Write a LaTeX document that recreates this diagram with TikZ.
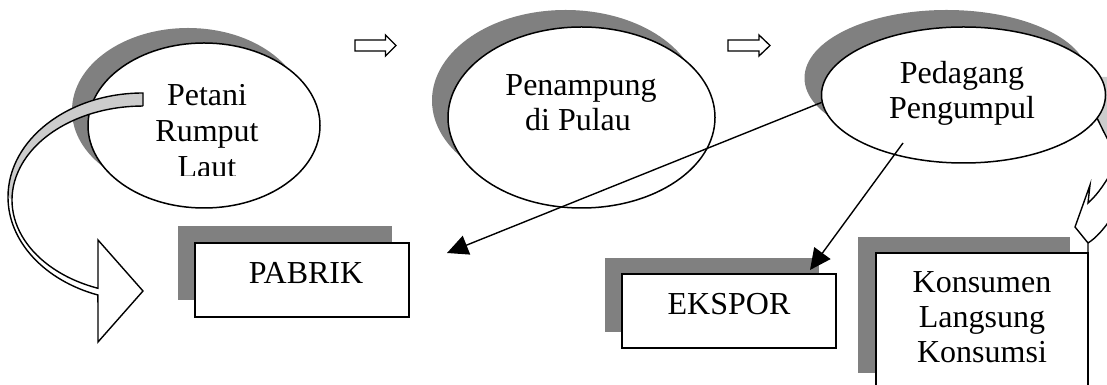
\documentclass[tikz,border=0pt]{standalone}
\usepackage{fontspec}
\setmainfont{Liberation Serif}
\usetikzlibrary{shapes.geometric,shadows,arrows.meta,calc}
\definecolor{shadowgray}{HTML}{808080}
\definecolor{bandgray}{HTML}{CCCCCC}
\begin{document}
\begin{tikzpicture}[x=1pt,y=1pt,
  lbl/.style={font=\fontsize{32}{35}\selectfont, anchor=base, inner sep=0pt},
  bubble/.style={ellipse, draw, line width=1.5pt, fill=white, inner sep=0pt},
  box/.style={rectangle, draw, line width=1.5pt, fill=white, inner sep=0pt},
  shade1/.style={drop shadow={shadow xshift=-16pt,shadow yshift=15pt,fill=shadowgray,opacity=1}},
  shade2/.style={drop shadow={shadow xshift=-16pt,shadow yshift=17pt,fill=shadowgray,opacity=1}},
  shade3/.style={drop shadow={shadow xshift=-17pt,shadow yshift=17pt,fill=shadowgray,opacity=1}},
  outline/.style={line width=1.4pt, line join=miter},
  flow/.style={-{Triangle[length=21pt,width=20pt]}, line width=1.4pt},
  blockarrow/.style={draw, line width=1.3pt, fill=white, line join=miter}
]
\useasboundingbox (0,0) rectangle (1107,385);
\fill[white] (0,0) rectangle (1107,385);

% ellipses
\node[bubble, shade1, minimum width=232pt, minimum height=165pt] (petani) at (204,259.5) {};
\node[bubble, shade2, minimum width=267pt, minimum height=181pt] (penampung) at (581.5,267.5) {};
% back band of right curved arrow (behind the third ellipse)
\fill[bandgray] (1102,308) -- (1096,268) .. controls (1100,259) and (1105,250) .. (1112,238) -- (1112,308) -- cycle;
\node[bubble, shade3, minimum width=284pt, minimum height=136pt] (pedagang) at (963.5,290) {};
\draw[outline] (1097,267) .. controls (1101,259) and (1105,250) .. (1112,238);

% left curved arrow (Petani -> PABRIK)
\fill[bandgray] (143,292) arc[start angle=90,end angle=180,x radius=135,y radius=104]
  -- (12,185) arc[start angle=180,end angle=90,x radius=131,y radius=94] -- cycle;
\fill[white] (8,188) arc[start angle=180,end angle=250.5,x radius=135,y radius=104]
  -- (98,43) -- (143,94) -- (98,145) -- (98,96.7)
  arc[start angle=249.9,end angle=180,x radius=131,y radius=94] -- cycle;
\draw[outline] (143,279) -- (143,292) arc[start angle=90,end angle=250.5,x radius=135,y radius=104]
  -- (98,43) -- (143,94) -- (98,145) -- (98,96.7)
  arc[start angle=249.9,end angle=90,x radius=131,y radius=94];

% small block arrows
\draw[blockarrow] (355,345) -- (385.5,345) -- (385.5,350) -- (396,339.5) -- (385.5,329) -- (385.5,334) -- (355,334) -- cycle;
\draw[blockarrow] (728,345) -- (759,345) -- (759,350) -- (770,339.5) -- (759,329) -- (759,334) -- (728,334) -- cycle;

% boxes
\node[box, shade3, minimum width=214pt, minimum height=74pt] (pabrik) at (302,105) {};
\node[box, drop shadow={shadow xshift=-17pt,shadow yshift=16pt,fill=shadowgray,opacity=1}, minimum width=214pt, minimum height=74pt] (ekspor) at (729,74) {};
\node[box, drop shadow={shadow xshift=-18pt,shadow yshift=16pt,fill=shadowgray,opacity=1}, minimum width=212pt, minimum height=136pt] (konsumen) at (982,64) {};

% connectors
\coordinate (tipA) at (447,132);
\coordinate (startB) at (903,242);
\coordinate (tipB) at (810,115);
\draw[flow] (pedagang.183) -- (tipA);
\draw[flow] (startB) -- (tipB);

% right curved arrow head (Pedagang -> Konsumen)
\fill[white] (1088,142) -- (1075,158) -- (1090,200) -- (1088,182)
  .. controls (1095,188) and (1103,198) .. (1112,214) -- (1112,168)
  .. controls (1104,156) and (1096,147) .. (1088,142) -- cycle;
\draw[outline] (1088,132) -- (1088,142) -- (1075,158) -- (1090,200) -- (1088,182)
  .. controls (1095,188) and (1103,198) .. (1112,214);
\draw[outline] (1112,168) .. controls (1104,156) and (1096,147) .. (1088,142);

% texts
\begin{scope}
\clip (80,209) rectangle (330,300);
\node[lbl] (t1a) at (207,279) {Petani};
\node[lbl] (t1b) at (207,243) {Rumput};
\node[lbl] (t1c) at (207,207) {Laut};
\end{scope}
\node[lbl] (t2a) at (581,289) {Penampung};
\node[lbl] (t2b) at (578,254) {di Pulau};
\node[lbl] (t3a) at (962,301) {Pedagang};
\node[lbl] (t3b) at (962,266) {Pengumpul};
\node[lbl] (t4) at (306,101) {PABRIK};
\node[lbl] (t5) at (729,70) {EKSPOR};
\node[lbl] (t6a) at (982,92) {Konsumen};
\node[lbl] (t6b) at (982,57) {Langsung};
\node[lbl] (t6c) at (982,22) {Konsumsi};
\end{tikzpicture}
\end{document}
